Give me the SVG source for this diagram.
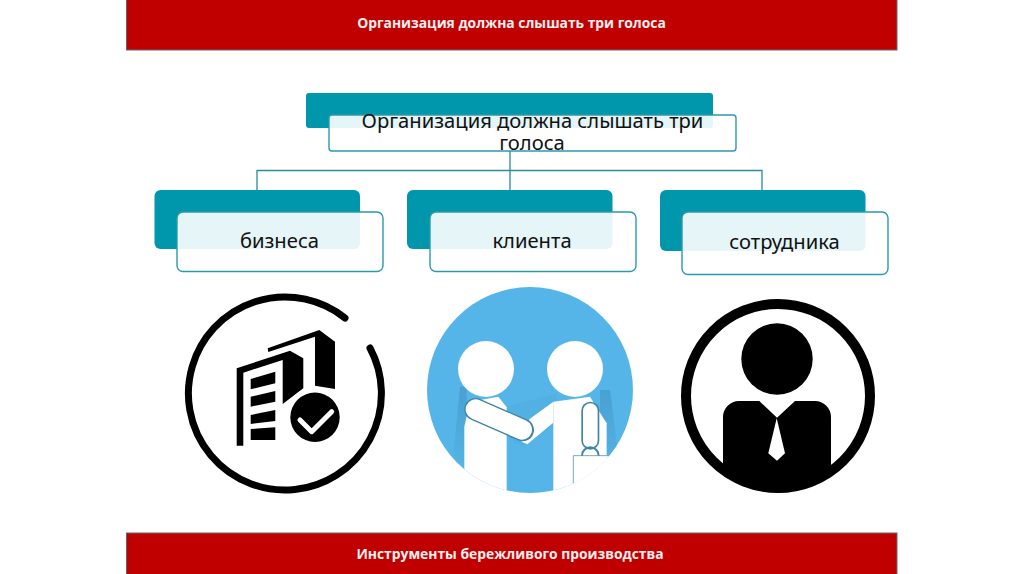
<svg xmlns="http://www.w3.org/2000/svg" width="1024" height="574" viewBox="0 0 1024 574">
<style>
.bar{fill:#c00000;stroke:#5f6a72;stroke-width:1}
.t{font-family:"Open Sans","Liberation Sans",sans-serif;font-weight:700;font-size:13.850px;fill:#f8efef;text-anchor:middle}
.l{font-family:"Noto Sans","Liberation Sans",sans-serif;font-size:20.200px;fill:#111;text-anchor:middle}
.d{fill:#0096ab}
.w{fill:#fff;fill-opacity:.9;stroke:#2a9aab;stroke-width:1.4}
.c{fill:none;stroke:#2a8c9c;stroke-width:1.3}
.k{fill:#000}
.o{fill:none;stroke:#3f85a5;stroke-linecap:round}
.f{fill:none;stroke:#fff;stroke-linecap:round}
</style>
<defs>
<clipPath id="cb"><circle cx="530" cy="390" r="103"/></clipPath>
<clipPath id="cp"><circle cx="778" cy="396" r="96"/></clipPath>
<linearGradient id="sh" x1="0" y1="0" x2="0" y2="1"><stop offset="0" stop-color="#3f8fc0" stop-opacity=".55"/><stop offset="1" stop-color="#3f8fc0" stop-opacity=".08"/></linearGradient>
</defs>
<rect width="1024" height="574" fill="#fff"/>
<g id="header"><rect class="bar" x="126.500" y="-2" width="770.500" height="52"/><text class="t" x="511.500" y="28">Организация должна слышать три голоса</text></g>
<g id="footer"><rect class="bar" x="126.500" y="533" width="770.500" height="43"/><text class="t" x="510" y="559">Инструменты бережливого производства</text></g>
<g id="connectors">
<path class="c" d="M510 151V190M257 190V170.500H762V190"/>
</g>
<g id="root"><rect class="d" x="306" y="93" width="407" height="35" rx="3"/><rect class="w" x="329" y="115" width="407" height="36" rx="3"/>
<text class="l" x="532.500" y="128">Организация должна слышать три</text><text class="l" x="532" y="150">голоса</text></g>
<g id="n1"><rect class="d" x="154.500" y="190" width="205.500" height="59" rx="6"/><rect class="w" x="177" y="212" width="206" height="59.500" rx="6"/><text class="l" x="279.500" y="248">бизнеса</text></g>
<g id="n2"><rect class="d" x="407" y="190" width="205.500" height="59" rx="6"/><rect class="w" x="430" y="212" width="206" height="59.500" rx="6"/><text class="l" x="532" y="248">клиента</text></g>
<g id="n3"><rect class="d" x="660" y="190" width="205.500" height="61" rx="6"/><rect class="w" x="682" y="212" width="206" height="62.500" rx="6"/><text class="l" x="784.500" y="249">сотрудника</text></g>
<g id="icon-business">
<path d="M370 348A96.500 96.500 0 1 1 345 318" fill="none" stroke="#000" stroke-width="7" stroke-linecap="round"/>
<path class="k" d="M267.700 348.300L319.300 330L335 341.700V389L315 385.700V336.700L268.300 352Z"/>
<path class="k" d="M236.700 368.300L290 350.700L303.300 358.300V388.300L282.700 404V360L243.300 372.700V445.700H236.700Z"/>
<path class="k" d="M250.700 379L275.300 371.700V383.300L250.700 389.300ZM250.700 396.700L275.300 391V401.700L250.700 406.700ZM250.700 415L275.300 410V421L250.700 424ZM250.700 429L275.300 427.300V440H250.700Z"/>
<circle cx="315" cy="417.300" r="30" fill="#fff"/>
<circle class="k" cx="315" cy="417.300" r="24.700"/>
<path d="M300 420L311.700 431.700L331.700 411.700" fill="none" stroke="#fff" stroke-width="5" stroke-linecap="round" stroke-linejoin="round"/>
</g>
<g id="icon-client">
<circle cx="530" cy="390" r="103" fill="#56b5e8"/>
<g clip-path="url(#cb)"><g transform="translate(410 290) scale(.3333)">
<path d="M150 290L128 520H170V290Z" fill="url(#sh)"/>
<path d="M570 300H600L628 520H570Z" fill="url(#sh)"/>
<path d="M290 350L440 310V400L340 470L290 440Z" fill="#3f8fc0" fill-opacity=".12"/>
<path d="M163 410L180 335L265 320L290 352V615H163Z" fill="#fff"/>
<path d="M430 335L540 320L590 400V500L580 615H430Z" fill="#fff"/>
<path d="M358 388L430 335V398L352 463L335 455Z" fill="#fff"/>
<path class="o" stroke-width="68" d="M197 358L338 420"/>
<path class="f" stroke-width="60" d="M197 358L336 419"/>
<path class="o" stroke-width="54" d="M541 362V452"/>
<path class="f" stroke-width="44" d="M541 362V452"/>
<path d="M490 497H610V620H490Z" fill="#fff"/>
<path d="M490 580V497H600" fill="none" stroke="#7fa9ba" stroke-width="3"/>
<path d="M516 497A25 25 0 0 1 566 497" fill="none" stroke="#3f85a5" stroke-width="6"/>
</g></g>
<circle cx="486" cy="369" r="28" fill="#fff"/>
<circle cx="575" cy="369" r="28" fill="#fff"/>
</g>
<g id="icon-person">
<circle cx="778" cy="396" r="92" fill="none" stroke="#000" stroke-width="10"/>
<circle class="k" cx="777" cy="359" r="35.700"/>
<path class="k" clip-path="url(#cp)" d="M739 401H759.300L777 417.700L795 401H815A16 16 0 0 1 831 417V500H723V417A16 16 0 0 1 739 401Z"/>
<path d="M776.700 418.300L785 453.300L777 460.700L768.300 453.300Z" fill="#fff"/>
</g>
</svg>
